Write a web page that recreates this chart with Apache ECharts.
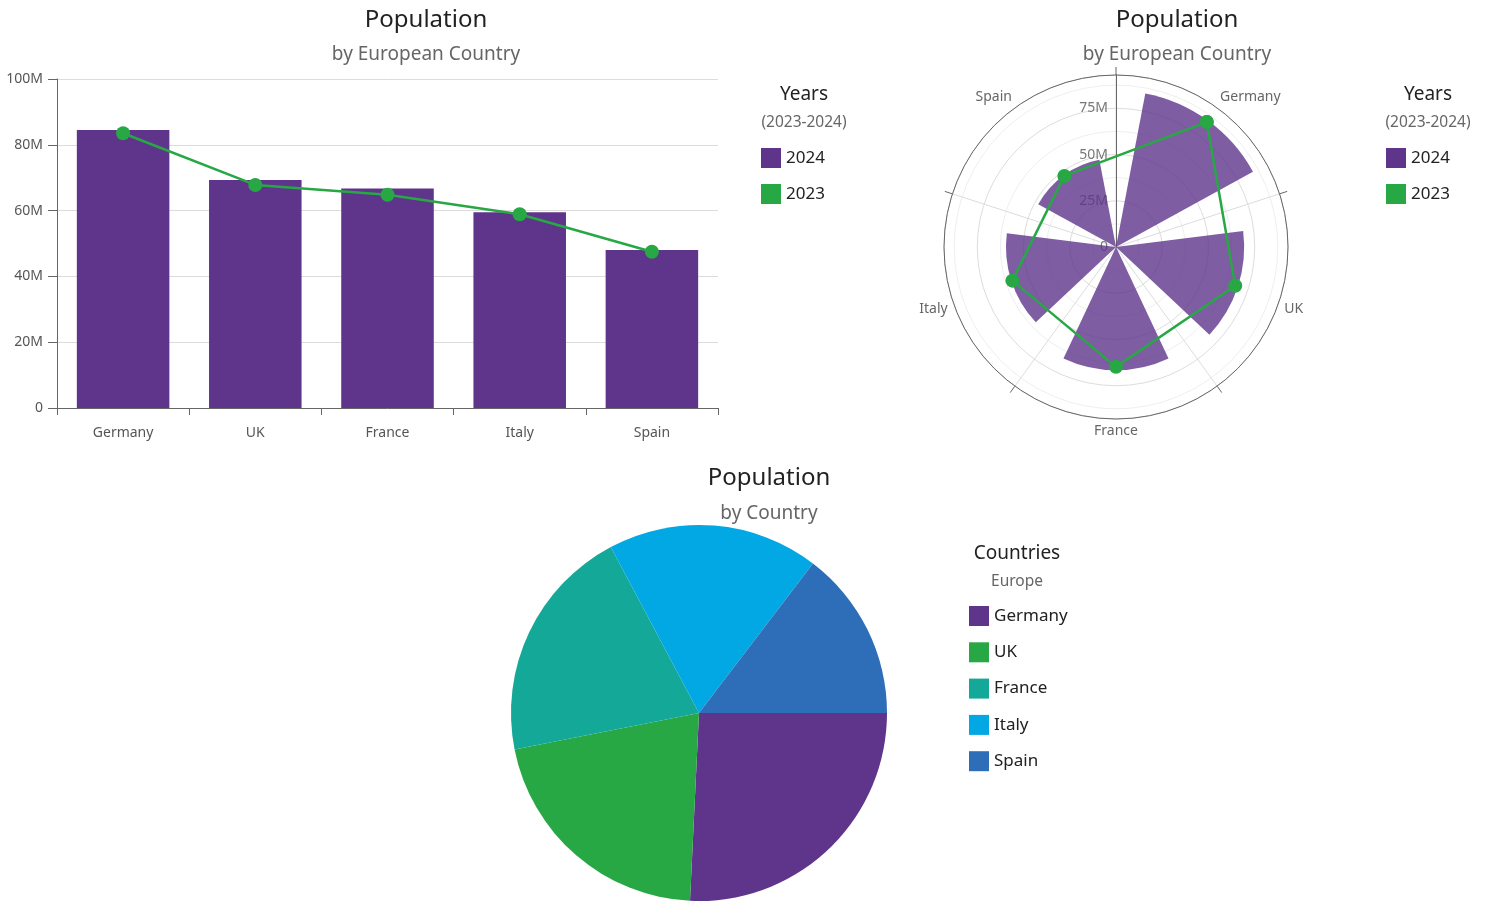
<!DOCTYPE html>
<html>
<head>
<meta charset="utf-8">
<script src="https://cdn.jsdelivr.net/npm/echarts@6/dist/echarts.min.js"></script>
<style>
html,body{margin:0;padding:0;background:#fff;}
#main{width:1489px;height:909px;}
</style>
</head>
<body>
<div id="main"></div>
<script>
// ---- data ----
const categories = ['Germany', 'UK', 'France', 'Italy', 'Spain'];
const pop2024 = [84.5, 69.3, 66.7, 59.5, 48.0];   // millions
const pop2023 = [83.5, 67.8, 64.8, 58.9, 47.5];   // millions
const yearNames = ['2024', '2023'];
const yTicks = [0, 20, 40, 60, 80, 100];
const radialTicks = [0, 25, 50, 75];

// ---- style ----
const FONT = 'Noto Sans';
const PURPLE = '#5E358B';
const GREEN = '#27A844';
const pieColors = ['#5E358B', '#27A844', '#13A897', '#02A8E3', '#2E6EB8'];
const AXIS = '#666';
const LABEL = '#555';
const GRID = '#dcdcdc';

function mLabel(v) { return v === 0 ? '0' : v + 'M'; }

function titleAt(x, y, text, size, color) {
  return { text: text, left: x, top: y, textAlign: 'center', padding: 0,
    textStyle: { fontFamily: FONT, fontSize: size, fontWeight: 'normal', color: color } };
}

function legendAt(x, y, names, gap) {
  return { data: names, left: x, top: y, orient: 'vertical', icon: 'rect', padding: 0,
    itemWidth: 20, itemHeight: 20, itemGap: gap, selectedMode: false,
    textStyle: { fontFamily: FONT, fontSize: 17, color: '#222' } };
}

const chart = echarts.init(document.getElementById('main'), null, { renderer: 'canvas' });

const option = {
  animation: false,
  color: [PURPLE, GREEN],
  title: [
    titleAt(426, 8, 'Population', 24, '#222'),
    titleAt(426, 45, 'by European Country', 19, '#666'),
    titleAt(1177, 8, 'Population', 24, '#222'),
    titleAt(1177, 45, 'by European Country', 19, '#666'),
    titleAt(804, 85, 'Years', 19, '#222'),
    titleAt(804, 115, '(2023-2024)', 15.5, '#666'),
    titleAt(1428, 85, 'Years', 19, '#222'),
    titleAt(1428, 115, '(2023-2024)', 15.5, '#666'),
    titleAt(769, 466, 'Population', 24, '#222'),
    titleAt(769, 504, 'by Country', 19, '#666'),
    titleAt(1017, 544, 'Countries', 19, '#222'),
    titleAt(1017, 574, 'Europe', 15.5, '#666')
  ],
  legend: [
    legendAt(761, 148, yearNames, 16),
    legendAt(1386, 148, yearNames, 16),
    legendAt(969, 606, categories, 16.3)
  ],
  grid: { left: 57, top: 79, width: 661, height: 329, containLabel: false },
  xAxis: {
    type: 'category', data: categories, gridIndex: 0,
    axisLine: { show: true, lineStyle: { color: AXIS, width: 1 } },
    axisTick: { show: true, length: 7, lineStyle: { color: AXIS } },
    axisLabel: { fontFamily: FONT, fontSize: 14, color: LABEL, margin: 18 }
  },
  yAxis: {
    type: 'value', min: 0, max: 100, interval: 20, gridIndex: 0,
    axisLine: { show: true, lineStyle: { color: AXIS, width: 1 } },
    axisTick: { show: true, length: 9, lineStyle: { color: AXIS } },
    axisLabel: { fontFamily: FONT, fontSize: 14, color: LABEL, margin: 14,
      formatter: function (v) { return yTicks.indexOf(v) >= 0 ? mLabel(v) : ''; } },
    splitLine: { lineStyle: { color: GRID, width: 1 } }
  },
  polar: { center: [1116, 247], radius: 172 },
  angleAxis: {
    type: 'category', data: categories, startAngle: 90, clockwise: true,
    axisLine: { show: true, lineStyle: { color: AXIS, width: 1 } },
    axisTick: { show: true, length: 8, lineStyle: { color: AXIS } },
    axisLabel: { fontFamily: FONT, fontSize: 14, color: '#666', margin: 5,
      align: 'center', verticalAlign: 'middle' },
    splitLine: { show: true, lineStyle: { color: GRID, width: 1 } }
  },
  radiusAxis: {
    type: 'value', min: 0, max: 93, interval: 25,
    axisLine: { show: true, lineStyle: { color: AXIS, width: 1 } },
    axisTick: { show: false },
    axisLabel: { fontFamily: FONT, fontSize: 14, color: '#777', showMaxLabel: false,
      formatter: function (v) { return radialTicks.indexOf(v) >= 0 ? mLabel(v) : ''; } },
    splitLine: { show: true, lineStyle: { color: GRID, width: 1 } },
    minorTick: { show: false, splitNumber: 2 },
    minorSplitLine: { show: true, lineStyle: { color: '#eeeeee', width: 1 } }
  },
  series: [
    { name: yearNames[0], type: 'bar', xAxisIndex: 0, yAxisIndex: 0, data: pop2024,
      barWidth: '70%', itemStyle: { color: PURPLE } },
    { name: yearNames[1], type: 'line', xAxisIndex: 0, yAxisIndex: 0, data: pop2023,
      symbol: 'circle', symbolSize: 14, lineStyle: { color: GREEN, width: 2.5 },
      itemStyle: { color: GREEN } },
    { name: yearNames[0], type: 'bar', coordinateSystem: 'polar',
      data: pop2024, barWidth: '70%', itemStyle: { color: PURPLE, opacity: 0.8 } },
    { name: yearNames[1], type: 'line', coordinateSystem: 'polar',
      data: pop2023.map(function (v, i) { return [v, i]; }).concat([[pop2023[0], 0]]),
      symbol: 'circle', symbolSize: 14, lineStyle: { color: GREEN, width: 2.5 },
      itemStyle: { color: GREEN } },
    { name: 'Countries', type: 'pie', center: [699, 713], radius: 188, startAngle: 0,
      clockwise: true, label: { show: false }, labelLine: { show: false },
      data: categories.map(function (c, i) { return { name: c, value: pop2024[i], itemStyle: { color: pieColors[i] } }; }) }
  ]
};
chart.setOption(option);
</script>
</body>
</html>
